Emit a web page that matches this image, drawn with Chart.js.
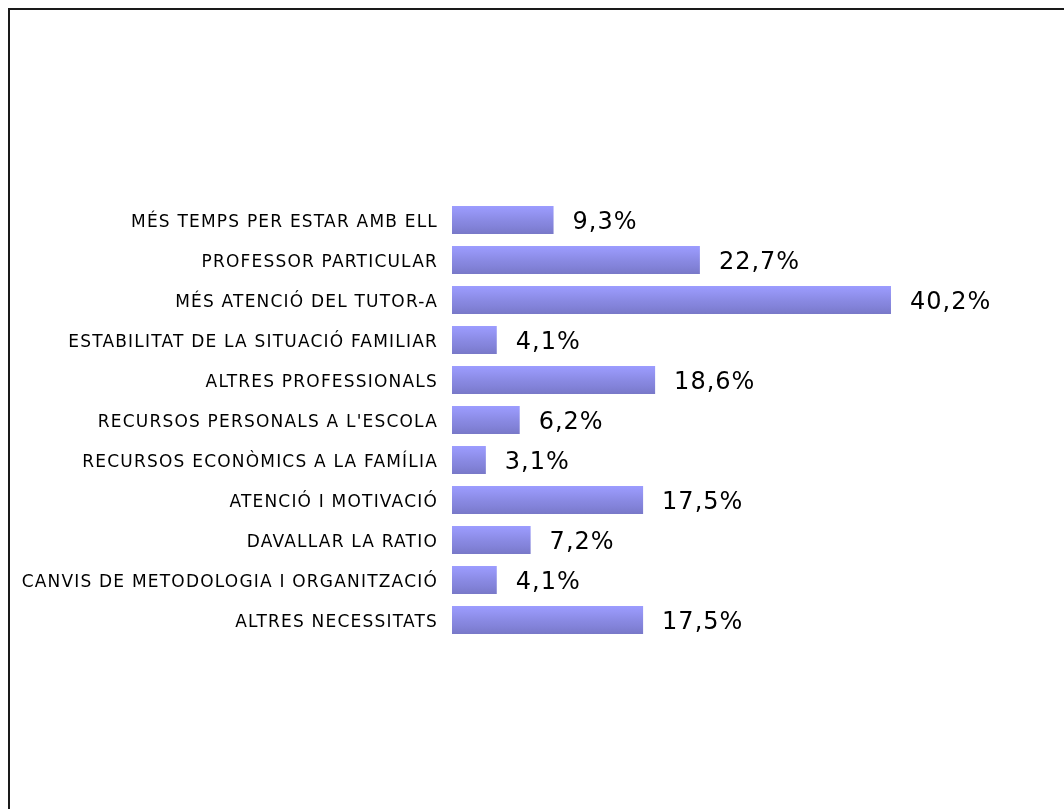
<!DOCTYPE html>
<html lang="ca">
<head>
<meta charset="utf-8">
<title>Necessitats</title>
<script src="https://cdn.jsdelivr.net/npm/chart.js@4/dist/chart.umd.min.js"></script>
<style>
    html, body {
        margin: 0;
        padding: 0;
        background: #fff;
        overflow: hidden;
    }
    .frame {
        position: absolute;
        left: 8px;
        top: 8px;
        width: 1100px;
        height: 850px;
        border-left: 2px solid #1a1a1a;
        border-top: 2px solid #1a1a1a;
    }
    .chart-box {
        position: absolute;
        left: 0;
        top: 0;
        width: 1064px;
        height: 809px;
    }
</style>
</head>
<body>
<div class="frame"></div>
<div class="chart-box"><canvas id="needsChart"></canvas></div>
<script>
// categories (top to bottom) and percentages
const categories = [
    'MÉS TEMPS PER ESTAR AMB ELL',
    'PROFESSOR PARTICULAR',
    'MÉS ATENCIÓ DEL TUTOR-A',
    'ESTABILITAT DE LA SITUACIÓ FAMILIAR',
    'ALTRES PROFESSIONALS',
    "RECURSOS PERSONALS A L'ESCOLA",
    'RECURSOS ECONÒMICS A LA FAMÍLIA',
    'ATENCIÓ I MOTIVACIÓ',
    'DAVALLAR LA RATIO',
    'CANVIS DE METODOLOGIA I ORGANITZACIÓ',
    'ALTRES NECESSITATS'
];
const percentages = [9.3, 22.7, 40.2, 4.1, 18.6, 6.2, 3.1, 17.5, 7.2, 4.1, 17.5];
const axisMax = 50;

function formatPct(v) {
    return v.toFixed(1).replace('.', ',') + '%';
}

// banded blue-violet fill, light on top and darker at the bottom
function barFill(context) {
    const chart = context.chart;
    const yScale = chart.scales.y;
    if (!chart.chartArea || !yScale || context.dataIndex === undefined) return '#8c8ce6';
    const center = yScale.getPixelForValue(context.dataIndex);
    if (!isFinite(center)) return '#8c8ce6';
    const half = 14;
    const g = chart.ctx.createLinearGradient(0, center - half, 0, center + half);
    g.addColorStop(0, '#9c9cff');
    g.addColorStop(0.25, '#9494f2');
    g.addColorStop(0.5, '#8a8ae4');
    g.addColorStop(0.75, '#8282d8');
    g.addColorStop(1, '#7878c8');
    return g;
}

// slightly spaced lettering for the category labels
const spacedText = {
    id: 'spacedText',
    beforeDraw(chart) {
        chart.ctx.letterSpacing = '1.2px';
    }
};

// value text to the right of each bar
const valueLabels = {
    id: 'valueLabels',
    afterDatasetsDraw(chart) {
        const c = chart.ctx;
        const meta = chart.getDatasetMeta(0);
        c.save();
        c.font = '24px "DejaVu Sans"';
        c.letterSpacing = '1px';
        c.fillStyle = '#000';
        c.textAlign = 'left';
        c.textBaseline = 'middle';
        meta.data.forEach((bar, i) => {
            c.fillText(formatPct(percentages[i]), bar.x + 19, bar.y + 3);
        });
        c.restore();
    }
};

document.addEventListener('DOMContentLoaded', function() {
    const ctx = document.getElementById('needsChart');
    new Chart(ctx, {
        type: 'bar',
        data: {
            labels: categories,
            datasets: [{
                data: percentages,
                backgroundColor: barFill,
                borderWidth: 0,
                barPercentage: 0.7,
                categoryPercentage: 1.0
            }]
        },
        options: {
            indexAxis: 'y',
            responsive: true,
            maintainAspectRatio: false,
            animation: false,
            layout: {
                padding: { top: 200, bottom: 169, left: 0, right: 66 }
            },
            plugins: {
                legend: { display: false },
                tooltip: { enabled: false }
            },
            scales: {
                x: {
                    display: false,
                    min: 0,
                    max: axisMax
                },
                y: {
                    grid: { display: false, drawTicks: false },
                    border: { display: false },
                    ticks: {
                        color: '#000',
                        font: { family: 'DejaVu Sans', size: 17 },
                        padding: 14,
                        labelOffset: 3,
                        autoSkip: false
                    },
                    afterFit(scale) {
                        scale.width = 452;
                    }
                }
            }
        },
        plugins: [spacedText, valueLabels]
    });
});
</script>
</body>
</html>
